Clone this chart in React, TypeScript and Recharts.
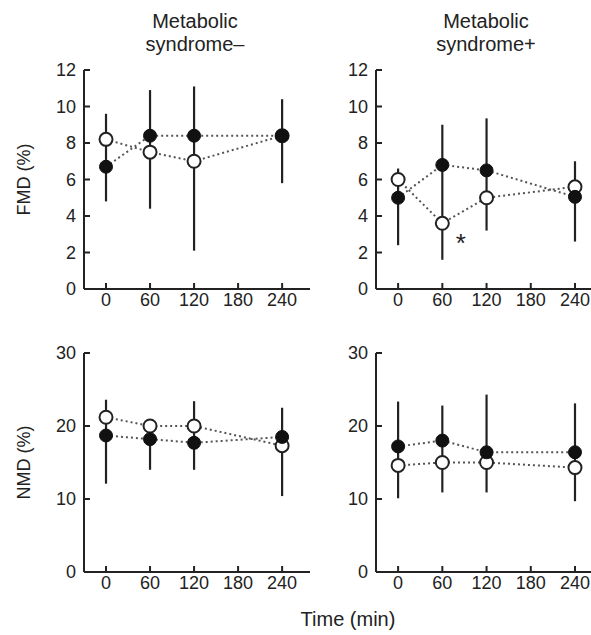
import { LineChart, Line, XAxis, YAxis, ErrorBar, ReferenceDot } from "recharts";

const FONT = '"Liberation Sans", Arial, Helvetica, sans-serif';
const INK = "#222";

const TIME = [0, 60, 120, 240];
const TIME_TICKS = [0, 60, 120, 180, 240];
const FMD_TICKS = [0, 2, 4, 6, 8, 10, 12];
const NMD_TICKS = [0, 10, 20, 30];

// FMD, metabolic syndrome-
const FMD_MINUS_FILLED = [6.7, 8.4, 8.4, 8.4];
const FMD_MINUS_OPEN = [8.2, 7.5, 7.0, 8.4];
const FMD_MINUS_LOW = [4.8, 4.4, 2.1, 5.8];
const FMD_MINUS_HIGH = [9.6, 10.9, 11.1, 10.4];

// FMD, metabolic syndrome+
const FMD_PLUS_FILLED = [5.0, 6.8, 6.5, 5.05];
const FMD_PLUS_OPEN = [6.0, 3.6, 5.0, 5.6];
const FMD_PLUS_LOW = [2.4, 1.6, 3.2, 2.6];
const FMD_PLUS_HIGH = [6.6, 9.0, 9.35, 7.0];

// NMD, metabolic syndrome-
const NMD_MINUS_FILLED = [18.7, 18.2, 17.7, 18.5];
const NMD_MINUS_OPEN = [21.2, 20.0, 20.0, 17.3];
const NMD_MINUS_LOW = [12.1, 14.0, 14.0, 10.4];
const NMD_MINUS_HIGH = [23.6, 19.6, 23.4, 22.5];

// NMD, metabolic syndrome+
const NMD_PLUS_FILLED = [17.2, 18.0, 16.4, 16.4];
const NMD_PLUS_OPEN = [14.6, 15.0, 15.0, 14.3];
const NMD_PLUS_LOW = [10.1, 10.9, 10.9, 9.7];
const NMD_PLUS_HIGH = [23.35, 22.8, 24.3, 23.1];

// significance mark (time, value) next to the 60 min open point
const STAR = { time: 85, value: 2.8 };

interface PanelProps {
  left: number;
  top: number;
  width: number;
  axisWidth: number;
  filled: number[];
  open: number[];
  low: number[];
  high: number[];
  yTicks: number[];
  yLabel?: string;
  star?: { time: number; value: number };
}

function Panel({ left, top, width, axisWidth, filled, open, low, high, yTicks, yLabel, star }: PanelProps) {
  const rows = TIME.map((t, i) => ({
    time: t,
    filled: filled[i],
    open: open[i],
    low: low[i],
    span: [0, high[i] - low[i]],
  }));
  const yMax = yTicks[yTicks.length - 1];

  return (
    <div style={{ position: "absolute", left, top }}>
      <LineChart width={width} height={270} data={rows} margin={{ top: 20, right: width === 320 ? 10 : 5, left: 0, bottom: 0 }}>
        <XAxis
          dataKey="time"
          type="number"
          domain={[-30, 278]}
          ticks={TIME_TICKS}
          allowDataOverflow
          height={31}
          tickSize={-6}
          tickMargin={10}
          axisLine={{ stroke: INK, strokeWidth: 2 }}
          tickLine={{ stroke: INK, strokeWidth: 2 }}
          tick={{ fill: INK, fontSize: 18, fontFamily: FONT }}
        />
        <YAxis
          type="number"
          domain={[0, yMax]}
          ticks={yTicks}
          width={axisWidth}
          tickSize={-6}
          tickMargin={14}
          axisLine={{ stroke: INK, strokeWidth: 2 }}
          tickLine={{ stroke: INK, strokeWidth: 2 }}
          tick={{ fill: INK, fontSize: 18, fontFamily: FONT }}
          label={
            yLabel
              ? { value: yLabel, angle: -90, position: "center", dx: -18, fill: INK, fontSize: 18, fontFamily: FONT }
              : undefined
          }
        />
        <Line dataKey="low" stroke="none" dot={false} activeDot={false} isAnimationActive={false}>
          <ErrorBar dataKey="span" width={0} stroke={INK} strokeWidth={2.2} direction="y" isAnimationActive={false} />
        </Line>
        <Line
          dataKey="open"
          stroke="#555"
          strokeWidth={2}
          strokeDasharray="2 3"
          dot={{ r: 6.5, fill: "#fff", stroke: INK, strokeWidth: 2, strokeDasharray: "none" }}
          activeDot={false}
          isAnimationActive={false}
        />
        <Line
          dataKey="filled"
          stroke="#555"
          strokeWidth={2}
          strokeDasharray="2 3"
          dot={{ r: 6.5, fill: "#111", stroke: "#111", strokeWidth: 1, strokeDasharray: "none" }}
          activeDot={false}
          isAnimationActive={false}
        />
        {star && (
          <ReferenceDot
            x={star.time}
            y={star.value}
            r={1}
            fill="none"
            stroke="none"
            label={{ value: "*", position: "center", fill: INK, fontSize: 26, fontFamily: FONT, dy: 5 }}
          />
        )}
      </LineChart>
    </div>
  );
}

const titleStyle: React.CSSProperties = {
  position: "absolute",
  width: 200,
  textAlign: "center",
  fontFamily: FONT,
  fontSize: 20,
  lineHeight: "23px",
  color: INK,
};

export default function App() {
  return (
    <div
      style={{
        position: "absolute",
        left: 0,
        top: 0,
        width: 591,
        height: 635,
        overflow: "hidden",
        background: "#fff",
      }}
    >
      <div style={{ ...titleStyle, left: 95, top: 10 }}>
        Metabolic
        <br />
        syndrome–
      </div>
      <div style={{ ...titleStyle, left: 386, top: 10 }}>
        Metabolic
        <br />
        syndrome+
      </div>
      <Panel
        left={0}
        top={50}
        width={320}
        axisWidth={84}
        filled={FMD_MINUS_FILLED}
        open={FMD_MINUS_OPEN}
        low={FMD_MINUS_LOW}
        high={FMD_MINUS_HIGH}
        yTicks={FMD_TICKS}
        yLabel="FMD (%)"
      />
      <Panel
        left={290}
        top={50}
        width={318}
        axisWidth={86}
        filled={FMD_PLUS_FILLED}
        open={FMD_PLUS_OPEN}
        low={FMD_PLUS_LOW}
        high={FMD_PLUS_HIGH}
        yTicks={FMD_TICKS}
        star={STAR}
      />
      <Panel
        left={0}
        top={333}
        width={320}
        axisWidth={84}
        filled={NMD_MINUS_FILLED}
        open={NMD_MINUS_OPEN}
        low={NMD_MINUS_LOW}
        high={NMD_MINUS_HIGH}
        yTicks={NMD_TICKS}
        yLabel="NMD (%)"
      />
      <Panel
        left={290}
        top={333}
        width={318}
        axisWidth={86}
        filled={NMD_PLUS_FILLED}
        open={NMD_PLUS_OPEN}
        low={NMD_PLUS_LOW}
        high={NMD_PLUS_HIGH}
        yTicks={NMD_TICKS}
      />
      <div
        style={{
          position: "absolute",
          left: 248,
          top: 607,
          width: 200,
          textAlign: "center",
          fontFamily: FONT,
          fontSize: 20,
          lineHeight: "24px",
          color: INK,
        }}
      >
        Time (min)
      </div>
    </div>
  );
}
